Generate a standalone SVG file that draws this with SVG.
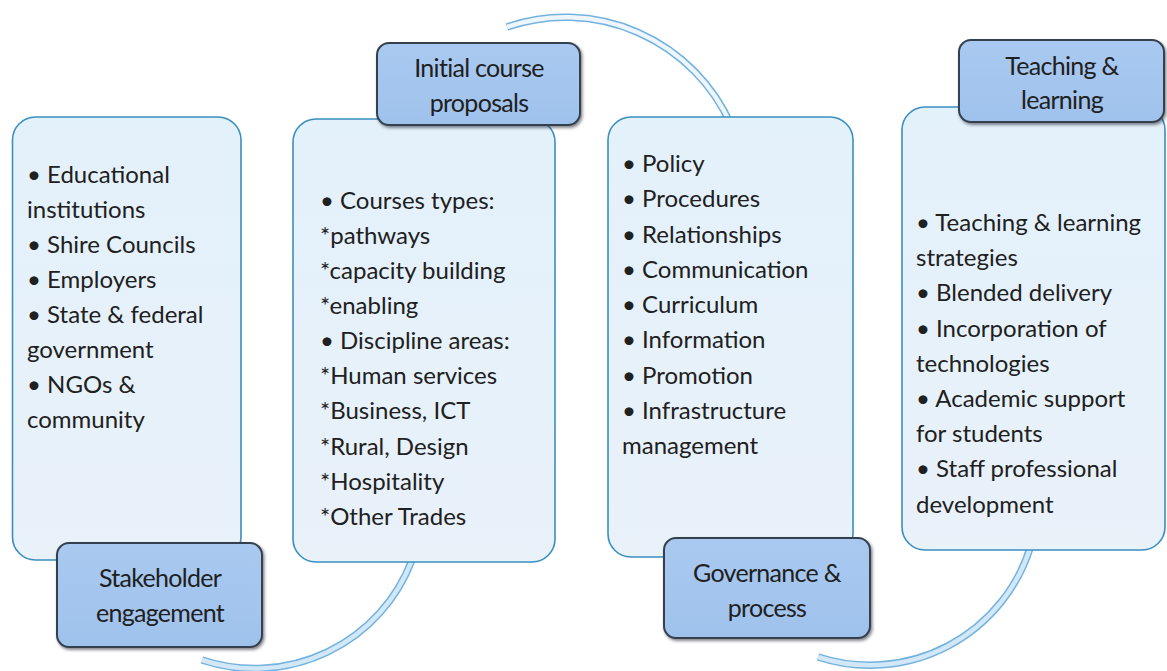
<svg xmlns="http://www.w3.org/2000/svg" width="1167" height="671" viewBox="0 0 1167 671">
  <defs>
    <linearGradient id="cardFill" x1="0" y1="0" x2="0" y2="1">
      <stop offset="0" stop-color="#e3f1fb"/>
      <stop offset="1" stop-color="#e9f1f9"/>
    </linearGradient>
    <linearGradient id="tagFill" x1="0" y1="0" x2="0" y2="1">
      <stop offset="0" stop-color="#a9c9f0"/>
      <stop offset="1" stop-color="#9fc2ec"/>
    </linearGradient>
    <filter id="tagShadow" x="-10%" y="-10%" width="125%" height="130%">
      <feDropShadow dx="1.5" dy="2" stdDeviation="1.6" flood-color="#1c2430" flood-opacity="0.55"/>
    </filter>
  </defs>
  <style>
    .card { fill: url(#cardFill); stroke: #3a8fc0; stroke-width: 1.6; }
    .tag { fill: url(#tagFill); stroke: #34414f; stroke-width: 2; filter: url(#tagShadow); }
    .body { font-family: "Lato", "Open Sans", sans-serif; font-size: 24px; fill: #202020; }
    .title { font-family: "Lato", "Open Sans", sans-serif; font-size: 25px; fill: #202020; text-anchor: middle; letter-spacing: -0.7px; }
    .band-edge { fill: none; stroke: #72b2de; stroke-width: 7.5; }
    .band-core { fill: none; stroke: #d2e8f8; stroke-width: 4.5; }
    .band-core.pale { stroke: #eef6fc; }
  </style>

  <rect width="1167" height="671" fill="#ffffff"/>

  <!-- curved links running behind the cards -->
  <g id="connectors">
    <path class="band-edge" d="M 202 660 A 168 168 0 0 0 412 560"/>
    <path class="band-core" d="M 202 660 A 168 168 0 0 0 412 560"/>
    <path class="band-edge" d="M 507 27 A 181 181 0 0 1 731 125"/>
    <path class="band-core pale" d="M 507 27 A 181 181 0 0 1 731 125"/>
    <path class="band-edge" d="M 818 657 A 168 168 0 0 0 1031 545"/>
    <path class="band-core" d="M 818 657 A 168 168 0 0 0 1031 545"/>
  </g>

  <!-- stage 1 -->
  <g id="stakeholder-engagement">
    <rect class="card" x="12.5" y="117" width="228.5" height="443" rx="23"/>
    <text class="body">
      <tspan x="27" y="183">• Educational</tspan>
      <tspan x="27" y="218">institutions</tspan>
      <tspan x="27" y="253">• Shire Councils</tspan>
      <tspan x="27" y="288">• Employers</tspan>
      <tspan x="27" y="323">• State &amp; federal</tspan>
      <tspan x="27" y="358">government</tspan>
      <tspan x="27" y="393">• NGOs &amp;</tspan>
      <tspan x="27" y="428">community</tspan>
    </text>
    <rect class="tag" x="57" y="543" width="205" height="104" rx="12"/>
    <text class="title"><tspan x="160" y="587">Stakeholder</tspan><tspan x="160" y="622">engagement</tspan></text>
  </g>

  <!-- stage 2 -->
  <g id="initial-course-proposals">
    <rect class="card" x="293" y="119" width="262" height="443" rx="23"/>
    <text class="body">
      <tspan x="320" y="209">• Courses types:</tspan>
      <tspan x="320" y="244">*pathways</tspan>
      <tspan x="320" y="279">*capacity building</tspan>
      <tspan x="320" y="314">*enabling</tspan>
      <tspan x="320" y="349">• Discipline areas:</tspan>
      <tspan x="320" y="384">*Human services</tspan>
      <tspan x="320" y="419">*Business, ICT</tspan>
      <tspan x="320" y="455">*Rural, Design</tspan>
      <tspan x="320" y="490">*Hospitality</tspan>
      <tspan x="320" y="525">*Other Trades</tspan>
    </text>
    <rect class="tag" x="377" y="43" width="203" height="82" rx="12"/>
    <text class="title"><tspan x="479" y="77">Initial course</tspan><tspan x="479" y="112">proposals</tspan></text>
  </g>

  <!-- stage 3 -->
  <g id="governance-process">
    <rect class="card" x="608" y="117" width="245" height="440" rx="23"/>
    <text class="body">
      <tspan x="622" y="172">• Policy</tspan>
      <tspan x="622" y="207">• Procedures</tspan>
      <tspan x="622" y="243">• Relationships</tspan>
      <tspan x="622" y="278">• Communication</tspan>
      <tspan x="622" y="313">• Curriculum</tspan>
      <tspan x="622" y="348">• Information</tspan>
      <tspan x="622" y="384">• Promotion</tspan>
      <tspan x="622" y="419">• Infrastructure</tspan>
      <tspan x="622" y="454">management</tspan>
    </text>
    <rect class="tag" x="664" y="538" width="206" height="100" rx="12"/>
    <text class="title"><tspan x="767" y="582">Governance &amp;</tspan><tspan x="767" y="617">process</tspan></text>
  </g>

  <!-- stage 4 -->
  <g id="teaching-learning">
    <rect class="card" x="902" y="107" width="263" height="443" rx="23"/>
    <text class="body">
      <tspan x="916" y="231">• Teaching &amp; learning</tspan>
      <tspan x="916" y="266">strategies</tspan>
      <tspan x="916" y="301">• Blended delivery</tspan>
      <tspan x="916" y="337">• Incorporation of</tspan>
      <tspan x="916" y="372">technologies</tspan>
      <tspan x="916" y="407">• Academic support</tspan>
      <tspan x="916" y="442">for students</tspan>
      <tspan x="916" y="477">• Staff professional</tspan>
      <tspan x="916" y="513">development</tspan>
    </text>
    <rect class="tag" x="959" y="40" width="205" height="82" rx="12"/>
    <text class="title"><tspan x="1062" y="75">Teaching &amp;</tspan><tspan x="1062" y="109">learning</tspan></text>
  </g>
</svg>
